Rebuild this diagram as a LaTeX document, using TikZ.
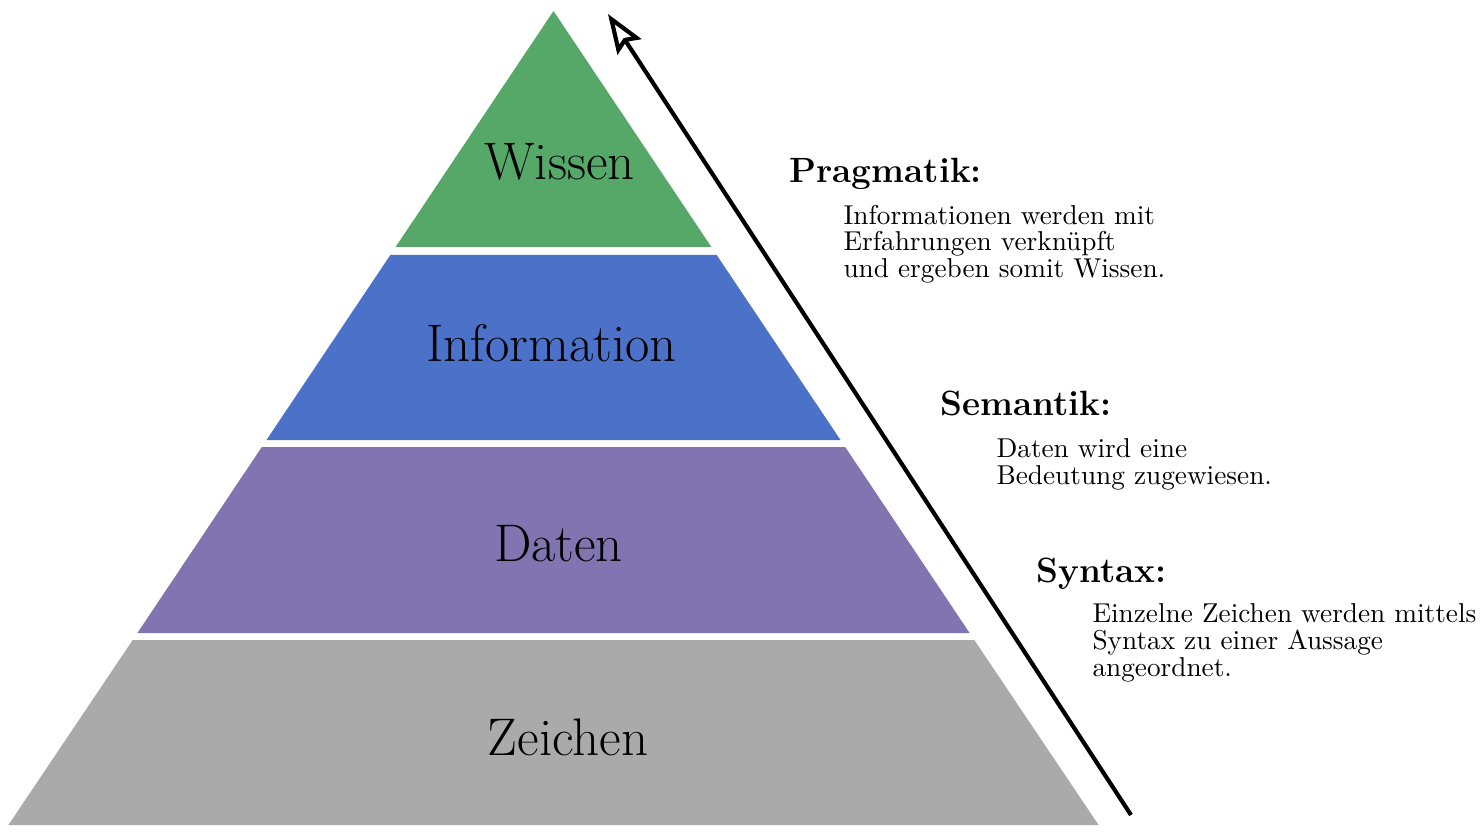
\documentclass[tikz,border=0pt]{standalone}
\usetikzlibrary{arrows.meta}

\definecolor{wissengreen}{RGB}{86,168,105}
\definecolor{infoblue}{RGB}{75,114,200}
\definecolor{datenpurple}{RGB}{129,116,176}
\definecolor{zeichengray}{RGB}{170,170,170}

\tikzset{
  layerlabel/.style={anchor=base, inner sep=0pt, font=\fontsize{19.6}{23}\selectfont},
  steptitle/.style={anchor=base west, inner sep=0pt, font=\fontsize{13}{15}\selectfont\bfseries},
  % multi-line descriptions are placed by the baseline of their last line
  stepdesc/.style={anchor=base west, inner sep=0pt, align=left, font=\fontsize{10.1}{10}\selectfont},
  levelarrow/.style={line width=1.55pt, -{Stealth[open, length=14.5pt, width=10.5pt, inset=2.2pt, line width=1.55pt]}},
}

\begin{document}
\begin{tikzpicture}[x=0.37037pt, y=-0.37037pt]
  \useasboundingbox (0,0) rectangle (1481,833);

  % pyramid layers, bottom to top
  \fill[zeichengray]  (8.4,825) -- (1098.6,825) -- (974.3,640) -- (132.7,640) -- cycle;
  \fill[datenpurple]  (137.4,633) -- (969.6,633) -- (845.2,447) -- (261.8,447) -- cycle;
  \fill[infoblue]     (266.5,440) -- (840.5,440) -- (716.7,255) -- (390.3,255) -- cycle;
  \fill[wissengreen]  (395.6,247) -- (711.4,247) -- (553.5,11) -- cycle;

  \node[layerlabel] (wissen) at (559.5,179) {Wissen};
  \node[layerlabel] (information) at (551.5,361) {Information};
  \node[layerlabel] (daten) at (558.5,561) {Daten};
  \node[layerlabel] (zeichen) at (568,755) {Zeichen};

  % ascending arrow from syntax to pragmatics
  \coordinate (arrowstart) at (1131,815);
  \coordinate (arrowend) at (608,14);
  \draw[levelarrow] (arrowstart) -- (arrowend);

  \node[steptitle] (pragmatik) at (789,182) {Pragmatik:};
  \node[stepdesc] (pragmatikdesc) at (843,278) {Informationen werden mit\\Erfahrungen verknüpft\\und ergeben somit Wissen.};

  \node[steptitle] (semantik) at (940,415) {Semantik:};
  \node[stepdesc] (semantikdesc) at (996,484) {Daten wird eine\\Bedeutung zugewiesen.};

  \node[steptitle] (syntax) at (1036,582) {Syntax:};
  \node[stepdesc] (syntaxdesc) at (1092,676) {Einzelne Zeichen werden mittels\\Syntax zu einer Aussage\\angeordnet.};
\end{tikzpicture}
\end{document}
